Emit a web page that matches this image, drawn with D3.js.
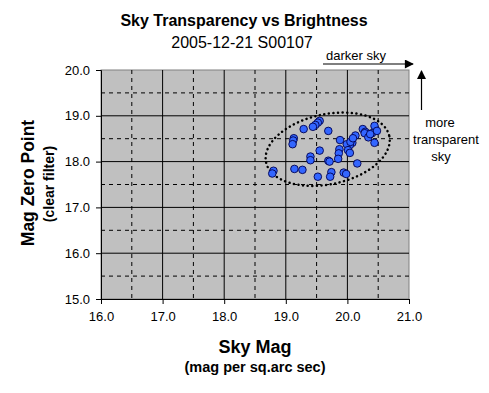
<!DOCTYPE html>
<html>
<head>
<meta charset="utf-8">
<script src="https://d3js.org/d3.v7.min.js"></script>
<style>
  body { margin: 0; background: #fff; }
  text { font-family: Arial, "Liberation Sans", sans-serif; fill: #000; }
</style>
</head>
<body>
<svg id="chart" width="489" height="393"></svg>
<script>
// sky mag (x) and mag zero point (y)
var skyMag = [19.55, 19.52, 19.48, 19.44, 19.29, 19.69, 19.13, 19.12, 19.11, 19.88,
              20.13, 20.25, 20.29, 20.28, 20.34, 20.40, 20.44, 20.48, 20.44, 20.08,
              20.04, 19.99, 19.87, 20.01, 20.04, 19.86, 19.55, 19.40, 19.40, 19.85,
              19.69, 19.71, 20.16, 19.14, 19.27, 18.80, 18.78, 19.74, 19.72, 19.52,
              19.94, 19.98, 20.05, 20.09, 20.37];
var zeroPoint = [18.89, 18.85, 18.80, 18.76, 18.71, 18.67, 18.51, 18.46, 18.38, 18.47,
                 18.57, 18.71, 18.65, 18.62, 18.53, 18.62, 18.78, 18.67, 18.41, 18.41,
                 18.36, 18.38, 18.27, 18.25, 18.19, 18.18, 18.24, 18.11, 18.03, 18.06,
                 18.02, 18.00, 17.96, 17.84, 17.82, 17.80, 17.74, 17.77, 17.67, 17.67,
                 17.76, 17.73, 18.43, 18.51, 18.60];
var xTicks = [16, 17, 18, 19, 20, 21];
var yTicks = [15, 16, 17, 18, 19, 20];

var svg = d3.select("#chart");
var pLeft = 101, pRight = 409, pTop = 70, pBottom = 299;

var x = d3.scaleLinear().domain([16, 21]).range([pLeft, pRight]);
var y = d3.scaleLinear().domain([15, 20]).range([pBottom, pTop]);

// plot area
svg.append("rect")
    .attr("x", pLeft).attr("y", pTop)
    .attr("width", pRight - pLeft).attr("height", pBottom - pTop)
    .attr("fill", "#c0c0c0").attr("stroke", "#808080");

var g = svg.append("g");
var halfX = d3.range(16.5, 21, 1), halfY = d3.range(15.5, 20, 1);

g.selectAll(".vmaj").data(xTicks.slice(1, -1)).enter().append("line")
    .attr("x1", d => x(d)).attr("x2", d => x(d))
    .attr("y1", pTop).attr("y2", pBottom)
    .attr("stroke", "#000").attr("stroke-width", 1);
g.selectAll(".hmaj").data(yTicks.slice(1, -1)).enter().append("line")
    .attr("x1", pLeft).attr("x2", pRight)
    .attr("y1", d => y(d)).attr("y2", d => y(d))
    .attr("stroke", "#000").attr("stroke-width", 1);
g.selectAll(".vmin").data(halfX).enter().append("line")
    .attr("x1", d => x(d)).attr("x2", d => x(d))
    .attr("y1", pTop).attr("y2", pBottom)
    .attr("stroke", "#000").attr("stroke-dasharray", "4,4");
g.selectAll(".hmin").data(halfY).enter().append("line")
    .attr("x1", pLeft).attr("x2", pRight)
    .attr("y1", d => y(d)).attr("y2", d => y(d))
    .attr("stroke", "#000").attr("stroke-dasharray", "4,4");

// axes
svg.append("g")
    .attr("transform", "translate(0," + pBottom + ")")
    .call(d3.axisBottom(x).tickValues(xTicks).tickFormat(d3.format(".1f")).tickSizeOuter(0).tickSize(5).tickPadding(8));
svg.append("g")
    .attr("transform", "translate(" + pLeft + ",0)")
    .call(d3.axisLeft(y).tickValues(yTicks).tickFormat(d3.format(".1f")).tickSizeOuter(0).tickSize(5).tickPadding(6));
svg.selectAll(".tick text").style("font-size", "13px").style("font-family", "Arial, 'Liberation Sans', sans-serif");
svg.selectAll(".domain").attr("stroke", "#000");

// ellipse around the cluster
var cx = x(19.68), cy = y(18.27);
svg.append("ellipse")
    .attr("transform", "translate(" + cx + "," + cy + ") rotate(-12)")
    .attr("rx", 63).attr("ry", 35)
    .attr("fill", "none").attr("stroke", "#000")
    .attr("stroke-width", 2.5).attr("stroke-dasharray", "0.1,4.5")
    .attr("stroke-linecap", "round");

// points
svg.append("g").selectAll("circle").data(skyMag).enter().append("circle")
    .attr("cx", d => x(d))
    .attr("cy", (d, i) => y(zeroPoint[i]))
    .attr("r", 3.8)
    .attr("fill", "#3366ff").attr("stroke", "#000050").attr("stroke-width", 0.9);

// titles
svg.append("text").attr("x", 244).attr("y", 26).attr("text-anchor", "middle")
    .style("font-size", "16px").style("font-weight", "bold").text("Sky Transparency vs Brightness");
svg.append("text").attr("x", 242).attr("y", 48).attr("text-anchor", "middle")
    .style("font-size", "16px").text("2005-12-21 S00107");

svg.append("text").attr("x", 255).attr("y", 353).attr("text-anchor", "middle")
    .style("font-size", "18px").style("font-weight", "bold").text("Sky Mag");
svg.append("text").attr("x", 255).attr("y", 372).attr("text-anchor", "middle")
    .style("font-size", "14.5px").style("font-weight", "bold").text("(mag per sq.arc sec)");

svg.append("text").attr("transform", "translate(34,183) rotate(-90)").attr("text-anchor", "middle")
    .style("font-size", "17.5px").style("font-weight", "bold").text("Mag Zero Point");
svg.append("text").attr("transform", "translate(54,184) rotate(-90)").attr("text-anchor", "middle")
    .style("font-size", "14px").style("font-weight", "bold").text("(clear filter)");

// arrow annotations
var defs = svg.append("defs");
defs.append("marker").attr("id", "head").attr("viewBox", "0 0 10 10")
    .attr("refX", 9).attr("refY", 5).attr("markerWidth", 10).attr("markerHeight", 9)
    .attr("markerUnits", "userSpaceOnUse").attr("orient", "auto")
    .append("path").attr("d", "M0,0 L10,5 L0,10 Z").attr("fill", "#000");

svg.append("text").attr("x", 326).attr("y", 60)
    .style("font-size", "13px").text("darker sky");
svg.append("line").attr("x1", 323).attr("x2", 413).attr("y1", 64).attr("y2", 64)
    .attr("stroke", "#000").attr("stroke-width", 1.2).attr("marker-end", "url(#head)");

svg.append("line").attr("x1", 421.5).attr("x2", 421.5).attr("y1", 110).attr("y2", 71)
    .attr("stroke", "#000").attr("stroke-width", 1.2).attr("marker-end", "url(#head)");
var note = svg.append("text").attr("text-anchor", "middle").style("font-size", "13px");
note.append("tspan").attr("x", 440).attr("y", 127).text("more");
note.append("tspan").attr("x", 446).attr("y", 144).text("transparent");
note.append("tspan").attr("x", 441).attr("y", 161).text("sky");
</script>
</body>
</html>
